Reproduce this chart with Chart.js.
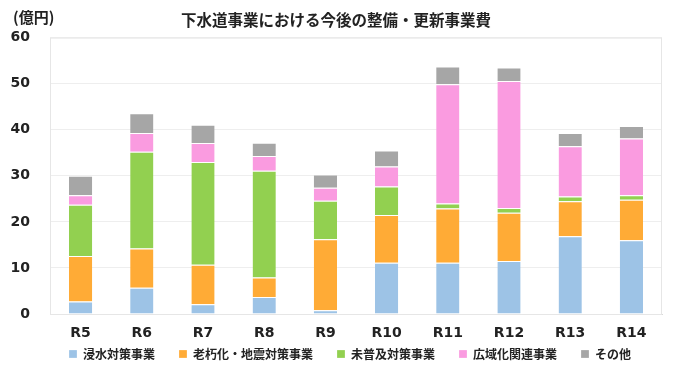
<!doctype html>
<html lang="ja">
  <head>
    <meta charset="utf-8">
    <title>下水道事業における今後の整備・更新事業費</title>
    <style>
      * { margin: 0; padding: 0; }
      body { background: #fff; }
      .chartBox { width: 690px; height: 377px; }
    </style>
  </head>
  <body>
    <div class="chartBox">
      <canvas id="myChart"></canvas>
    </div>

    <script src="https://cdn.jsdelivr.net/npm/chart.js"></script>
    <script>
    // data (億円)
    const years = ['R5', 'R6', 'R7', 'R8', 'R9', 'R10', 'R11', 'R12', 'R13', 'R14'];
    const shinsui   = [2.7, 5.7, 2.1, 3.7, 0.8, 11.1, 11.1, 11.5, 16.9, 16.0];
    const rokyuka   = [9.9, 8.5, 8.6, 4.2, 15.4, 10.4, 11.8, 10.5, 7.6, 8.8];
    const mifukyu   = [11.1, 21.0, 22.3, 23.2, 8.4, 6.2, 1.1, 1.0, 1.0, 1.0];
    const kouikika  = [2.1, 4.1, 4.1, 3.2, 2.8, 4.3, 25.9, 27.6, 10.9, 12.3];
    const sonota    = [4.2, 4.3, 4.0, 2.9, 2.9, 3.5, 3.8, 2.9, 2.9, 2.7];
    const yTicks = [0, 10, 20, 30, 40, 50, 60];

    const jpFont = '"Noto Sans CJK JP", "Noto Sans", sans-serif';
    const numFont = '"DejaVu Sans", Verdana, sans-serif';

    const mk = (label, values, color) => ({
      label,
      data: values,
      backgroundColor: color,
      borderColor: '#ffffff',
      borderWidth: { top: 1, bottom: 0, left: 0, right: 0 },
      borderSkipped: false,
      barPercentage: 0.38,
      categoryPercentage: 1.0
    });

    const data = {
      labels: years,
      datasets: [
        mk('浸水対策事業', shinsui, '#9dc3e6'),
        mk('老朽化・地震対策事業', rokyuka, '#ffab36'),
        mk('未普及対策事業', mifukyu, '#92d050'),
        mk('広域化関連事業', kouikika, '#fa9be0'),
        mk('その他', sonota, '#a6a6a6')
      ]
    };

    // plot frame + unit label.
    // legend padding is used both between items and above them, so the
    // legend box is moved up to sit right under the axis labels
    const frameAndUnit = {
      id: 'frameAndUnit',
      afterLayout(chart) {
        const lg = chart.legend;
        const h = lg.bottom - lg.top;
        lg.top = chart.scales.x.top + 10;
        lg.bottom = lg.top + h;
        lg.left += 14;
        lg.right += 14;
      },
      beforeDatasetsDraw(chart) {
        const { ctx, chartArea: { top, right, bottom, left } } = chart;
        ctx.save();
        ctx.strokeStyle = '#e6e6e6';
        ctx.lineWidth = 1;
        ctx.strokeRect(left + 0.5, top + 0.5, right - left - 1, bottom - top);
        ctx.restore();
      },
      afterDraw(chart) {
        const { ctx } = chart;
        ctx.save();
        ctx.font = 'bold 15px ' + jpFont;
        ctx.fillStyle = '#222';
        ctx.textAlign = 'left';
        ctx.textBaseline = 'middle';
        ctx.fillText('(億円)', 13, 17);
        ctx.restore();
      }
    };

    const config = {
      type: 'bar',
      data,
      options: {
        responsive: true,
        maintainAspectRatio: false,
        animation: false,
        layout: {
          autoPadding: false,
          padding: { left: 10, right: 28, top: 0, bottom: -12 }
        },
        plugins: {
          title: {
            display: true,
            text: '下水道事業における今後の整備・更新事業費',
            color: '#222',
            font: { family: jpFont, size: 15.5, weight: 'bold' },
            padding: { top: 11, bottom: 8 }
          },
          legend: {
            position: 'bottom',
            labels: {
              color: '#222',
              font: { family: jpFont, size: 12, weight: 'bold' },
              boxWidth: 8,
              boxHeight: 8,
              padding: 24
            }
          },
          tooltip: { enabled: false }
        },
        scales: {
          x: {
            stacked: true,
            grid: { display: false, drawTicks: false },
            border: { color: '#d9d9d9' },
            ticks: {
              color: '#222',
              padding: 11,
              font: { family: numFont, size: 14, weight: 'bold' }
            },
            afterFit(scale) { scale.height = 29; }
          },
          y: {
            stacked: true,
            min: 0,
            max: 60,
            afterBuildTicks(axis) {
              axis.ticks = yTicks.map(v => ({ value: v }));
            },
            afterFit(scale) { scale.width = 40; },
            grid: { color: '#eeeeee', drawTicks: false },
            border: { display: false },
            ticks: {
              color: '#222',
              padding: 20,
              font: { family: numFont, size: 14, weight: 'bold' }
            }
          }
        }
      },
      plugins: [frameAndUnit]
    };

    const myChart = new Chart(document.getElementById('myChart'), config);
    </script>
  </body>
</html>
